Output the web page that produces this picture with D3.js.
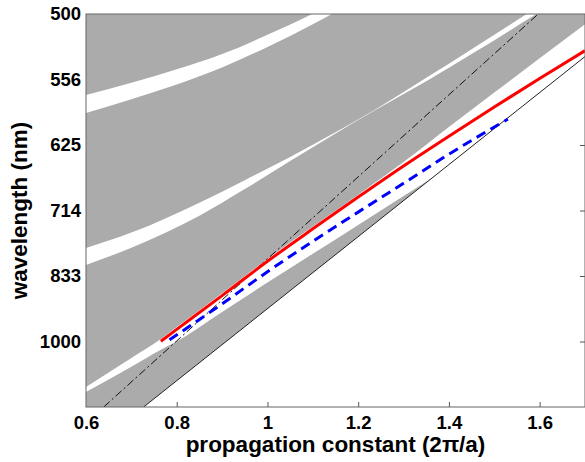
<!DOCTYPE html>
<html>
<head>
<meta charset="utf-8">
<script src="https://cdn.jsdelivr.net/npm/d3@7"></script>
<style>
  body { margin: 0; background: #fff; }
  svg { display: block; font-family: 'Liberation Sans', Arial, sans-serif; }
</style>
</head>
<body>
<div id="chart"></div>
<script>
// x = propagation constant (2pi/a), y = 1000 / wavelength (nm)
const xTicks = [0.6, 0.8, 1, 1.2, 1.4, 1.6]
const yTicks = [2.0, 1.8, 1.6, 1.4, 1.2, 1.0]
const yTickLabels = ['500', '556', '625', '714', '833', '1000']

// light line (solid) and dash-dot line, end points
const lightK = [0.727, 1.7]
const lightF = [0.8, 1.87]
const dashDotK = [0.639, 1.597]
const dashDotF = [0.8, 2.0]

// white gaps cut out of the grey band region
const gapAK = [0.6, 0.7, 0.765, 0.8, 0.9, 1.0, 1.1, 1.2, 1.3, 1.4, 1.5, 1.6, 1.7]
const gapALo = [0.846, 0.923, 0.975, 1.0, 1.09, 1.18, 1.268, 1.356, 1.444, 1.532, 1.62, 1.708, 1.796]
const gapAHi = [0.861, 0.950, 1.008, 1.044, 1.147, 1.252, 1.351, 1.448, 1.548, 1.655, 1.76, 1.865, 1.969]

const gapBK = [0.6, 0.7, 0.85, 0.95, 1.05, 1.15, 1.2, 1.27, 1.35, 1.45, 1.6]
const gapBLo = [1.2335, 1.2865, 1.384, 1.4655, 1.551, 1.6350, 1.6760, 1.732, 1.795, 1.8775, 2.0065]
const gapBHi = [1.2855, 1.3325, 1.424, 1.4925, 1.563, 1.6390, 1.6780, 1.736, 1.805, 1.8925, 2.0255]

const gapCK = [0.6, 0.7, 0.8, 0.9, 1.0, 1.1, 1.2]
const gapCLo = [1.6975, 1.740, 1.785, 1.8365, 1.8995, 1.969, 2.0445]
const gapCHi = [1.7525, 1.790, 1.831, 1.8775, 1.9365, 2.001, 2.0755]

// guided modes
const redK = [0.765, 0.8, 0.9, 1.0, 1.1, 1.2, 1.3, 1.4, 1.5, 1.6, 1.7]
const redF = [1.001, 1.037, 1.140, 1.245, 1.344, 1.441, 1.536, 1.627, 1.716, 1.803, 1.888]
const blueK = [0.784, 0.9, 1.0, 1.1, 1.2, 1.3, 1.4, 1.53]
const blueF = [1.005, 1.115, 1.213, 1.306, 1.395, 1.483, 1.572, 1.679]

const W = 585
const H = 462
const margin = { top: 14, right: 0, bottom: 55, left: 86 }

const svg = d3.select('#chart').append('svg')
  .attr('width', W)
  .attr('height', H)

const x = d3.scaleLinear().domain([0.6, 1.7]).range([margin.left, W - margin.right])
const y = d3.scaleLinear().domain([0.8, 2.0]).range([H - margin.bottom, margin.top])

const zip = (ks, fs) => ks.map((k, i) => [k, fs[i]])

svg.append('clipPath').attr('id', 'plot')
  .append('rect')
  .attr('x', x(0.6)).attr('y', y(2.0))
  .attr('width', x(1.7) - x(0.6)).attr('height', y(0.8) - y(2.0))

// ticks first, the grey image covers them (MATLAB layer bottom)
const tickFont = (g) => g.selectAll('text')
  .style('font-size', '18.5px')
  .style('font-weight', 'bold')
  .attr('fill', '#000')

svg.append('g')
  .attr('transform', 'translate(0,' + y(0.8) + ')')
  .call(d3.axisBottom(x).tickValues(xTicks).tickFormat(d3.format('')).tickSizeInner(-5).tickSizeOuter(0).tickPadding(9))
  .call(g => g.select('.domain').remove())
  .call(g => g.selectAll('line').attr('stroke', '#555'))
  .call(tickFont)

svg.append('g')
  .attr('transform', 'translate(' + x(0.6) + ',0)')
  .call(d3.axisLeft(y).tickValues(yTicks).tickFormat((d, i) => yTickLabels[i]).tickSizeInner(-5).tickSizeOuter(0).tickPadding(5))
  .call(g => g.select('.domain').remove())
  .call(g => g.selectAll('line').attr('stroke', '#555'))
  .call(tickFont)

svg.append('g')
  .attr('transform', 'translate(' + x(1.7) + ',0)')
  .call(d3.axisRight(y).tickValues(yTicks).tickFormat('').tickSizeInner(-5).tickSizeOuter(0))
  .call(g => g.select('.domain').remove())
  .call(g => g.selectAll('line').attr('stroke', '#555'))

svg.append('g')
  .attr('transform', 'translate(0,' + y(2.0) + ')')
  .call(d3.axisTop(x).tickValues(xTicks).tickFormat('').tickSizeInner(-5).tickSizeOuter(0))
  .call(g => g.select('.domain').remove())
  .call(g => g.selectAll('line').attr('stroke', '#555'))

const plot = svg.append('g').attr('clip-path', 'url(#plot)')

// grey: everything above the light line
const lightPts = zip(lightK, lightF)
const greyPts = [[0.6, 0.8]].concat(lightPts, [[1.7, 2.0], [0.6, 2.0]])
plot.append('path')
  .attr('d', d3.line().x(d => x(d[0])).y(d => y(d[1]))(greyPts) + 'Z')
  .attr('fill', '#ababab')

const gapArea = d3.area()
  .x(d => x(d.k))
  .y0(d => y(d.lo))
  .y1(d => y(d.hi))
  .curve(d3.curveMonotoneX)

const gaps = [
  [gapAK, gapALo, gapAHi],
  [gapBK, gapBLo, gapBHi],
  [gapCK, gapCLo, gapCHi]
]
for (const [ks, lo, hi] of gaps) {
  plot.append('path')
    .attr('d', gapArea(ks.map((k, i) => ({ k: k, lo: lo[i], hi: hi[i] }))))
    .attr('fill', '#fff')
}

const line = d3.line().x(d => x(d[0])).y(d => y(d[1])).curve(d3.curveMonotoneX)

plot.append('path')
  .attr('d', line(lightPts))
  .attr('fill', 'none')
  .attr('stroke', '#222')
  .attr('stroke-width', 1)

plot.append('path')
  .attr('d', line(zip(dashDotK, dashDotF)))
  .attr('fill', 'none')
  .attr('stroke', '#111')
  .attr('stroke-width', 1)
  .attr('stroke-dasharray', '8,3,2,3')

plot.append('path')
  .attr('d', line(zip(redK, redF)))
  .attr('fill', 'none')
  .attr('stroke', '#ff0000')
  .attr('stroke-width', 3)

plot.append('path')
  .attr('d', line(zip(blueK, blueF)))
  .attr('fill', 'none')
  .attr('stroke', '#0000ff')
  .attr('stroke-width', 3)
  .attr('stroke-dasharray', '10,6')

// box
svg.append('rect')
  .attr('x', x(0.6)).attr('y', y(2.0))
  .attr('width', x(1.7) - x(0.6)).attr('height', y(0.8) - y(2.0))
  .attr('fill', 'none')
  .attr('stroke', '#666')
  .attr('stroke-width', 1)

// axis titles
svg.append('text')
  .attr('x', (x(0.6) + x(1.7)) / 2)
  .attr('y', 452)
  .attr('text-anchor', 'middle')
  .style('font-size', '22.5px')
  .style('font-weight', 'bold')
  .text('propagation constant (2π/a)')

svg.append('text')
  .attr('transform', 'translate(27,' + (y(0.8) + y(2.0)) / 2 + ') rotate(-90)')
  .attr('text-anchor', 'middle')
  .style('font-size', '22.5px')
  .style('font-weight', 'bold')
  .text('wavelength (nm)')
</script>
</body>
</html>
